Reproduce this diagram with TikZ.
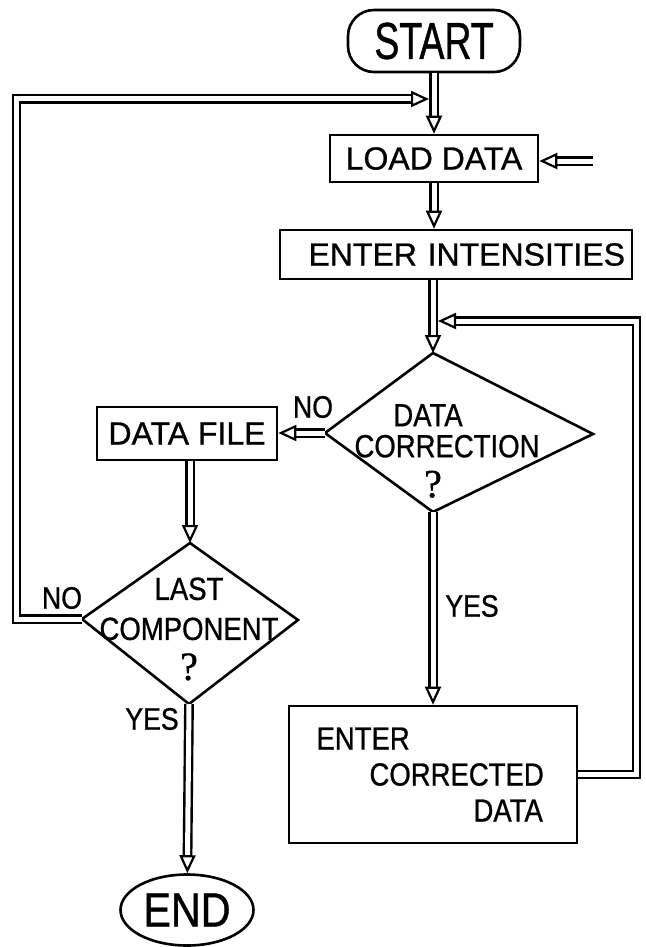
\documentclass[tikz,border=0pt]{standalone}
\usepackage{fontspec}
\setmainfont{Liberation Sans}[FakeBold=0.8]
\newfontfamily\narrowfont{Liberation Sans}[FakeStretch=0.86, FakeBold=0.8]
\newfontfamily\tallfont{Liberation Sans}[FakeStretch=0.72, FakeBold=0.8]
\newfontfamily\qfont{Liberation Serif}[FakeBold=1]
\usetikzlibrary{positioning, arrows.meta, shapes.geometric}

\begin{document}
\begin{tikzpicture}[
    x=1pt, y=-1pt,
    font=\fontsize{32}{36}\selectfont,
    box/.style={draw, line width=2.6pt, rectangle, inner sep=0pt, align=center},
    decision/.style={draw, line width=2.6pt, line join=miter},
    tag/.style={font=\narrowfont\fontsize{31}{31}\selectfont, inner sep=0pt},
    flow/.style={double, double distance=5pt, line width=2.4pt,
                 -{Triangle[open, length=18pt, width=16pt, line width=2.2pt]}},
  ]
    \useasboundingbox (0,0) rectangle (645,947);

    % Main column
    \node[box, rounded corners=26pt, minimum width=172pt, minimum height=62pt,
          font=\tallfont\fontsize{52}{52}\selectfont] (start) at (434,41) {START};
    \node[box, minimum width=208pt, minimum height=47pt] (load) at (434,158.5) {LOAD DATA};
    \node[box, minimum height=49pt, text width=338pt, inner xsep=7pt, align=right]
      (intens) at (456,254.5) {ENTER INTENSITIES};

    % Data correction decision
    \coordinate (corrT) at (433,353);
    \coordinate (corrL) at (325,433);
    \coordinate (corrR) at (593,434);
    \coordinate (corrB) at (433,512);
    \draw[decision] (corrT) -- (corrR) -- (corrB) -- (corrL) -- cycle;
    \node[font=\narrowfont\fontsize{32}{40}\selectfont, align=center] (corr) at (447,451)
      {DATA\kern38pt\\[-9pt]CORRECTION\\{\qfont\fontsize{40}{40}\selectfont ?}\kern28pt};

    \node[box, minimum width=180pt, minimum height=53pt] (dfile) at (187,433.5) {DATA FILE};

    % Last component decision
    \coordinate (lastT) at (190,543);
    \coordinate (lastL) at (82,619);
    \coordinate (lastR) at (298,620);
    \coordinate (lastB) at (189,704);
    \draw[decision] (lastT) -- (lastR) -- (lastB) -- (lastL) -- cycle;
    \node[font=\narrowfont\fontsize{32}{40}\selectfont, align=center] (last) at (189,629)
      {LAST\\COMPONENT\\{\qfont\fontsize{40}{40}\selectfont ?}};

    \node[box, minimum height=137pt, text width=233pt, inner xsep=27.5pt, align=left,
          font=\narrowfont\fontsize{32}{36}\selectfont]
      (ecd) at (433,774.5) {ENTER\\\hspace*{53pt}CORRECTED\\\hspace*{157pt}DATA};
    \node[draw, ellipse, line width=2.6pt, minimum width=133pt, minimum height=71pt,
          inner sep=0pt, font=\narrowfont\fontsize{48}{48}\selectfont] (end) at (187,910) {END};

    % Branch labels
    \node[tag] (noCorr) at (313,407) {NO};
    \node[tag] (noLast) at (62,598) {NO};
    \node[tag] (yesCorr) at (472,606) {YES};
    \node[tag] (yesLast) at (152,719) {YES};

    % Flow lines
    \coordinate (loadIn) at (593,161);
    \coordinate (backR) at (636.5,321);
    \coordinate (backL) at (16.5,99);

    \draw[flow] (start) -- (load);
    \draw[flow] (load.south) -- (load.south |- intens.north);
    \draw[flow] (corrT |- intens.south) -- (corrT);
    \draw[flow] (corrL) -- (corrL -| dfile.east);
    \draw[flow] (lastT |- dfile.south) -- (lastT);
    \draw[flow] (corrB) -- (ecd);
    \draw[flow] (lastB) -- (end);
    \draw[flow] (loadIn) -- (loadIn -| load.east);

    % Loops back
    \draw[flow] (ecd.east) -| (backR) -- ([xshift=5pt]corrT |- backR);
    \draw[flow] (lastL) -| (backL) -- ([xshift=-5pt]start.south |- backL);
\end{tikzpicture}
\end{document}
